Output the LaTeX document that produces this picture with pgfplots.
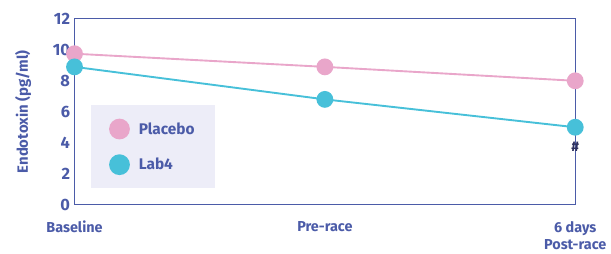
\documentclass[border=0pt]{standalone}
\usepackage{pgfplots}
\pgfplotsset{compat=1.18}
\usepackage{fontspec}
\setmainfont{Fira Sans}
\usetikzlibrary{calc}
\definecolor{axblue}{HTML}{4B5BA8}
\definecolor{pinkc}{HTML}{E9A6CA}
\definecolor{cyanc}{HTML}{47C0D9}
\definecolor{legbg}{HTML}{EDEDF8}
\definecolor{hashc}{HTML}{2E3160}
\begin{document}
\begin{tikzpicture}
\begin{axis}[
  name=ax,
  scale only axis,
  width=504pt, height=187pt,
  xmin=0, xmax=2, ymin=0, ymax=12,
  clip=false,
  axis line style={axblue, line width=1pt},
  xtick={0,1,2},
  xticklabels={Baseline,Pre-race,{6 days\\Post-race}},
  xticklabel style={align=center, font=\bfseries\fontsize{14.5}{17.5}\selectfont, text=axblue, yshift=-13pt},
  ytick={0,2,4,6,8,10,12},
  yticklabel style={font=\bfseries\fontsize{16.5}{18}\selectfont, text=axblue, xshift=-1pt},
  /pgf/number format/assume math mode=true,
  major tick length=0pt,
  ylabel={Endotoxin (pg/ml)},
  ylabel style={font=\bfseries\fontsize{15}{17}\selectfont, text=axblue, yshift=15pt},
  legend style={at={(rel axis cs:0.032,0.086)}, anchor=south west, fill=legbg, draw=none,
    font=\bfseries\fontsize{15.5}{17}\selectfont, text=axblue, inner xsep=18.5pt, inner ysep=13.5pt,
    row sep=15pt},
  legend cell align=left,
  legend image code/.code={\fill[#1] (0.25cm,0) circle (9.5pt);},
]
\addplot[pinkc, line width=1.9pt, mark=*, mark size=7.5pt, mark options={fill=pinkc, draw=none}] coordinates {(0,9.75) (1,8.9) (2,8.0)};
\addlegendentry{\hspace{7pt}Placebo}
\addplot[cyanc, line width=1.9pt, mark=*, mark size=7.5pt, mark options={fill=cyanc, draw=none}] coordinates {(0,8.9) (1,6.8) (2,5.0)};
\addlegendentry{\hspace{7pt}Lab4}
\node[text=hashc, font=\bfseries\fontsize{14}{15}\selectfont] at (axis cs:2,5) [yshift=-20pt] {\#};
\end{axis}
\pgfresetboundingbox
\path[use as bounding box] ($(ax.south west)+(-75pt,-49pt)$) rectangle ($(ax.south west)+(540pt,206pt)$);
\end{tikzpicture}
\end{document}
